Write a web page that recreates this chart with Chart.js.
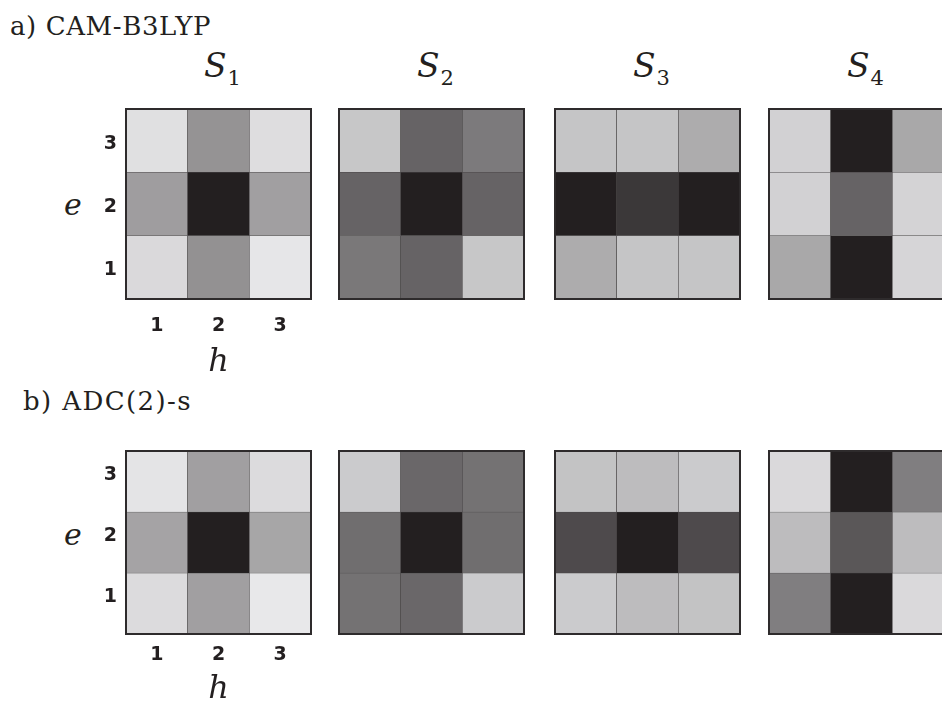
<!DOCTYPE html>
<html>
<head>
<meta charset="utf-8">
<script src="https://cdn.jsdelivr.net/npm/chart.js@4.4.0/dist/chart.umd.min.js"></script>
<style>
  html, body { margin:0; padding:0; background:#fff; width:942px; height:707px; overflow:hidden; }
  body { position:relative; font-family:"DejaVu Serif", serif; color:#231f20; }
  canvas { position:absolute; }
  .lbl { position:absolute; white-space:nowrap; color:#231f20; }
  .method { font-size:26px; line-height:26px; }
  .stitle { font-size:33px; line-height:33px; font-style:italic; text-align:center; width:100px; }
  .stitle span { font-style:normal; font-size:21px; position:relative; top:8px; margin-left:1px; }
  .evar { font-size:30px; line-height:30px; font-style:italic; }
</style>
</head>
<body>
<script>
// ---- data (weights: 0 = light, 1 = darkest); rows are e = 1,2,3 ; columns are h = 1,2,3
const hLabels = ['1', '2', '3'];
const eLabels = ['1', '2', '3'];
const stateLabels = ['1', '2', '3', '4'];
const methodLabels = ['a) CAM-B3LYP', 'b) ADC(2)-s'];

const camB3lypS1 = [[0.10, 0.45, 0.04], [0.39, 1.00, 0.38], [0.07, 0.44, 0.08]];
const camB3lypS2 = [[0.57, 0.67, 0.19], [0.67, 1.00, 0.67], [0.19, 0.67, 0.56]];
const camB3lypS3 = [[0.32, 0.20, 0.20], [1.00, 0.88, 1.00], [0.20, 0.20, 0.32]];
const camB3lypS4 = [[0.34, 1.00, 0.12], [0.14, 0.67, 0.13], [0.14, 1.00, 0.34]];

const adc2sS1 = [[0.09, 0.38, 0.03], [0.36, 1.00, 0.35], [0.05, 0.38, 0.09]];
const adc2sS2 = [[0.60, 0.65, 0.17], [0.62, 1.00, 0.62], [0.17, 0.65, 0.60]];
const adc2sS3 = [[0.17, 0.24, 0.21], [0.79, 1.00, 0.79], [0.21, 0.24, 0.17]];
const adc2sS4 = [[0.54, 1.00, 0.10], [0.24, 0.73, 0.24], [0.10, 1.00, 0.54]];

// ---- colour ramp
function shade(w) {
  const r = Math.round(238 - w * (238 - 35));
  const g = Math.round(238 - w * (238 - 31));
  const b = Math.round(240 - w * (240 - 32));
  return `rgb(${r},${g},${b})`;
}

// ---- layout
const PAD = 2;
const YW = 40;
const panelLefts = [126, 339, 555, 769];
const panelW = 185;
const rows = [
  { top: 109, height: 190, data: [camB3lypS1, camB3lypS2, camB3lypS3, camB3lypS4],
    xTickPad: 17, xAxisH: 83, yLabelOffset: 3, methodTop: 13, methodLeft: 10, methodSpacing: 0.6,
    eTop: 190, titles: true },
  { top: 451, height: 183, data: [adc2sS1, adc2sS2, adc2sS3, adc2sS4],
    xTickPad: 11, xAxisH: 75, yLabelOffset: -6, methodTop: 388, methodLeft: 23, methodSpacing: 1.4,
    eTop: 520, titles: false }
];

const framePlugin = {
  id: 'frame',
  afterDraw(chart) {
    const { ctx, chartArea: a } = chart;
    ctx.save();
    ctx.strokeStyle = '#2e2b2c';
    ctx.lineWidth = 2;
    ctx.strokeRect(a.left, a.top, a.right - a.left, a.bottom - a.top);
    ctx.restore();
  }
};

const tickFont = { family: '"DejaVu Sans", sans-serif', weight: 'bold', size: 19 };

rows.forEach((row, ri) => {
  const m = document.createElement('div');
  m.className = 'lbl method';
  m.style.left = row.methodLeft + 'px';
  m.style.top = row.methodTop + 'px';
  m.style.letterSpacing = row.methodSpacing + 'px';
  m.textContent = methodLabels[ri];
  document.body.appendChild(m);

  const e = document.createElement('div');
  e.className = 'lbl evar';
  e.style.left = '64px';
  e.style.top = row.eTop + 'px';
  e.textContent = 'e';
  document.body.appendChild(e);

  row.data.forEach((matrix, pi) => {
    const withAxes = pi === 0;
    const cv = document.createElement('canvas');
    const left = panelLefts[pi] - PAD - (withAxes ? YW : 0);
    const top = row.top - PAD;
    const w = PAD * 2 + panelW + (withAxes ? YW : 0);
    const h = PAD * 2 + row.height + (withAxes ? row.xAxisH : 0);
    cv.width = w; cv.height = h;
    cv.style.left = left + 'px'; cv.style.top = top + 'px';
    cv.style.width = w + 'px'; cv.style.height = h + 'px';
    document.body.appendChild(cv);

    if (row.titles) {
      const t = document.createElement('div');
      t.className = 'lbl stitle';
      t.style.left = (panelLefts[pi] + panelW / 2 + 4 - 50) + 'px';
      t.style.top = '49px';
      t.innerHTML = 'S<span>' + stateLabels[pi] + '</span>';
      document.body.appendChild(t);
    }

    const datasets = eLabels.map((el, ei) => ({
      label: 'e=' + el,
      data: hLabels.map(() => 1),
      backgroundColor: matrix[ei].map(shade),
      borderColor: '#4a4748',
      borderWidth: 0.6,
      barPercentage: 1,
      categoryPercentage: 1
    }));

    const xScale = {
      display: withAxes,
      stacked: true,
      grid: { display: false, drawTicks: false },
      border: { display: false },
      ticks: { font: tickFont, color: '#231f20', padding: row.xTickPad - 1, maxRotation: 0 },
      title: { display: true, text: 'h', color: '#231f20',
               font: { family: '"DejaVu Serif", serif', style: 'italic', size: 32 },
               padding: { top: 0, bottom: 0 } }
    };
    const yScale = {
      display: withAxes,
      stacked: true,
      min: 0, max: 3,
      grid: { display: false, drawTicks: false },
      border: { display: false },
      afterBuildTicks(scale) { scale.ticks = eLabels.map((_, i) => ({ value: i + 0.5 })); },
      ticks: { font: tickFont, color: '#231f20', padding: 9, labelOffset: row.yLabelOffset,
               callback: (v, i) => eLabels[i] }
    };
    if (withAxes) {
      xScale.afterFit = (scale) => { scale.height = row.xAxisH; scale.paddingLeft = 0; scale.paddingRight = 0; };
      yScale.afterFit = (scale) => { scale.width = YW; scale.paddingTop = 0; scale.paddingBottom = 0; };
    }

    new Chart(cv, {
      type: 'bar',
      data: { labels: hLabels, datasets },
      options: {
        responsive: false,
        animation: false,
        devicePixelRatio: 1,
        layout: { padding: PAD },
        plugins: { legend: { display: false }, tooltip: { enabled: false }, title: { display: false } },
        scales: { x: xScale, y: yScale }
      },
      plugins: [framePlugin]
    });
  });
});
</script>
</body>
</html>
